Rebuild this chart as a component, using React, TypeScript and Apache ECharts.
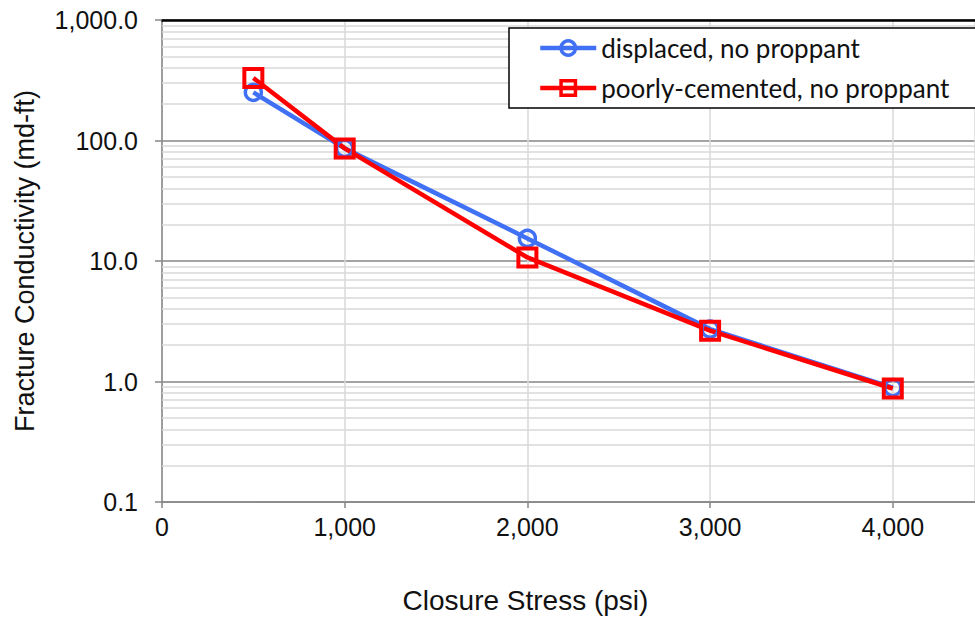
import React, { useEffect, useRef } from "react";
import * as echarts from "echarts";

// Closure stress (psi) at which conductivity was measured
const stress = [500, 1000, 2000, 3000, 4000];
// Fracture conductivity (md-ft)
const displaced = [251, 86, 15.4, 2.72, 0.89];
const poorlyCemented = [330, 86, 10.7, 2.64, 0.875];
// Light minor grid lines between decades
const minorLines = [
  0.2, 0.3, 0.4, 0.5, 0.6, 0.7, 0.8, 0.9,
  2, 3, 4, 5, 6, 7, 8, 9,
  20, 30, 40, 50, 60, 70, 80, 90,
  200, 300, 400, 500, 600, 700, 800, 900,
];

const BLUE = "#4070F4";
const RED = "#FF0000";
const AXIS_GRAY = "#868686";
const LIGHT = "#D9D9D9";
const FONT = "Liberation Sans, Arial, sans-serif";

const blueItem = { color: "rgba(255,255,255,0)", borderColor: BLUE, borderWidth: 3.5 };
const redItem = { color: "rgba(255,255,255,0)", borderColor: RED, borderWidth: 4 };

export default function App() {
  const ref = useRef<HTMLDivElement>(null);

  useEffect(() => {
    document.body.style.margin = "0";
    const chart = echarts.init(ref.current!, null, { renderer: "svg" });
    chart.setOption({
      animation: false,
      backgroundColor: "#fff",
      grid: { left: 162, top: 20, right: 0, bottom: 115 },
      xAxis: [
        {
          type: "value",
          min: 0,
          max: 4450,
          interval: 1000,
          name: "Closure Stress (psi)",
          nameLocation: "middle",
          nameGap: 84,
          nameTextStyle: {
            fontFamily: FONT,
            fontSize: 28,
            color: "#111",
            padding: [0, 86, 0, 0],
          },
          axisLine: { show: true, lineStyle: { color: AXIS_GRAY, width: 1.5 } },
          axisTick: { show: true, length: 6, lineStyle: { color: AXIS_GRAY, width: 1.5 } },
          axisLabel: {
            showMaxLabel: false,
            margin: 12,
            fontFamily: FONT,
            fontSize: 25,
            color: "#111",
            formatter: (v: number) => (v % 1000 === 0 ? v.toLocaleString("en-US") : ""),
          },
          splitLine: { show: true, lineStyle: { color: LIGHT, width: 1.5 } },
        },
        {
          type: "value",
          position: "top",
          min: 0,
          max: 4450,
          axisLine: { show: true, lineStyle: { color: "#000", width: 2.5 } },
          axisTick: { show: false },
          axisLabel: { show: false },
          splitLine: { show: false },
        },
      ],
      yAxis: {
        type: "log",
        logBase: 10,
        min: 0.1,
        max: 1000,
        name: "Fracture Conductivity (md-ft)",
        nameLocation: "middle",
        nameGap: 124,
        nameTextStyle: { fontFamily: FONT, fontSize: 27, color: "#111" },
        axisLine: { show: true, lineStyle: { color: AXIS_GRAY, width: 1.5 } },
        axisTick: { show: true, length: 7, lineStyle: { color: AXIS_GRAY, width: 1.5 } },
        axisLabel: {
          margin: 24,
          fontFamily: FONT,
          fontSize: 25,
          color: "#111",
          formatter: (v: number) =>
            v.toLocaleString("en-US", { minimumFractionDigits: 1, maximumFractionDigits: 1 }),
        },
        splitLine: { show: true, lineStyle: { color: AXIS_GRAY, width: 1.5 } },
      },
      legend: {
        orient: "vertical",
        left: 538,
        top: 33,
        padding: 0,
        itemWidth: 56,
        itemHeight: 18,
        itemGap: 10,
        lineStyle: { width: 4.5 },
        itemStyle: { borderWidth: 3.5 },
        textStyle: { fontFamily: "Lato, sans-serif", fontSize: 26, color: "#111", lineHeight: 30 },
        data: ["displaced, no proppant", "poorly-cemented, no proppant"],
      },
      graphic: [
        {
          type: "rect",
          z: 4,
          shape: { x: 509, y: 28, width: 520, height: 80 },
          style: { fill: "#fff", stroke: "#000", lineWidth: 1.5 },
        },
      ],
      series: [
        {
          name: "minor grid",
          type: "line",
          data: [],
          z: 1,
          silent: true,
          markLine: {
            silent: true,
            symbol: "none",
            z: 1,
            label: { show: false },
            lineStyle: { color: LIGHT, width: 1.5, type: "solid" },
            data: minorLines.map((v) => ({ yAxis: v })),
          },
        },
        {
          name: "displaced, no proppant",
          type: "line",
          z: 3,
          data: stress.map((s, i) => [s, displaced[i]]),
          symbol: "circle",
          symbolSize: 16,
          lineStyle: { color: BLUE, width: 4.5 },
          itemStyle: blueItem,
        },
        {
          name: "poorly-cemented, no proppant",
          type: "line",
          z: 3,
          data: stress.map((s, i) => [s, poorlyCemented[i]]),
          symbol: "rect",
          symbolSize: 18,
          lineStyle: { color: RED, width: 4.5 },
          itemStyle: redItem,
        },
      ],
    });
    return () => chart.dispose();
  }, []);

  return <div ref={ref} style={{ width: 975, height: 619 }} />;
}
